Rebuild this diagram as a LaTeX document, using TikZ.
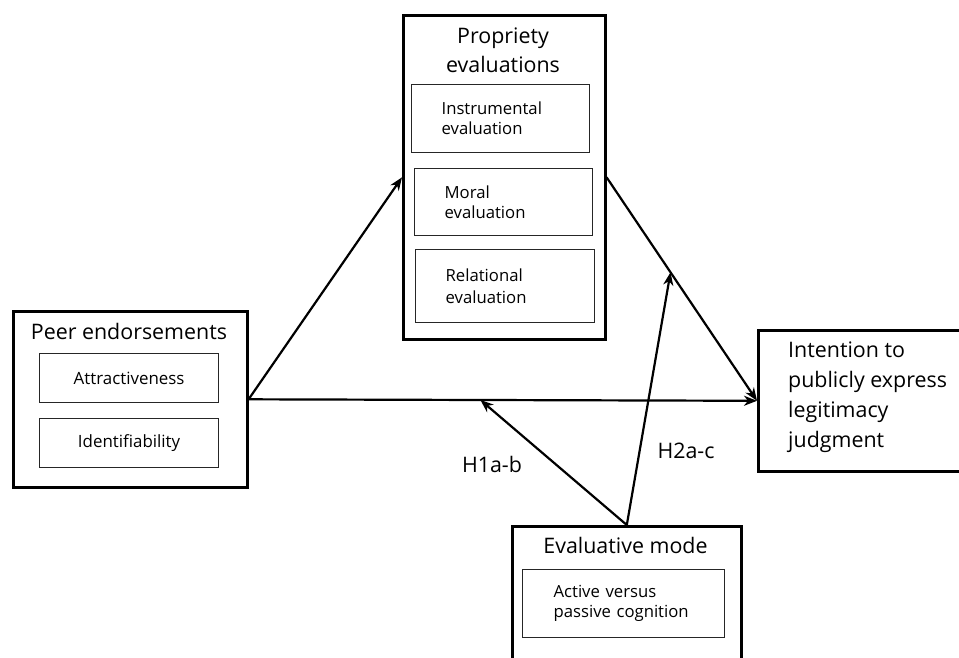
\documentclass[tikz,border=0pt]{standalone}
\usepackage{fontspec}
\setmainfont{Open Sans}
\usetikzlibrary{arrows.meta,calc}
\tikzset{
  x=1pt, y=-1pt,
  obox/.style={draw, line width=2.6pt, inner sep=0, anchor=north west},
  ibox/.style={draw=black!85, line width=1.2pt, inner ysep=0, inner xsep=30pt, align=left,
               font=\fontsize{16.7}{20}\selectfont, anchor=north west},
  cbox/.style={draw=black!85, line width=1.2pt, inner sep=0, align=center,
               font=\fontsize{16.9}{20}\selectfont, anchor=north west},
  ttl/.style={font=\fontsize{21.4}{29}\selectfont, inner sep=0},
  conn/.style={line width=2.2pt, -{Stealth[length=13pt, width=10pt, inset=4pt]}},
}
\begin{document}
\begin{tikzpicture}
\useasboundingbox (0,0) rectangle (959,657);
\clip (0,0) rectangle (959,657);
\fill[white] (0,0) rectangle (959,657);
% propriety
\node[obox, minimum width=202pt, minimum height=324pt] (prop) at (402,14) {};
\node[ttl, anchor=base, align=center] (propt) at (503,72) {Propriety\\evaluations};
\node[ibox, minimum height=68pt, text width=118pt] (instr) at (411,84) {Instrumental\\evaluation};
\node[ibox, minimum height=67pt, text width=118pt] (moral) at (414,168) {Moral\\evaluation};
\node[ibox, minimum height=73pt, text width=119pt, font=\fontsize{16.7}{22}\selectfont] (rel) at (415,249) {Relational\\evaluation};
% peer
\node[obox, minimum width=234pt, minimum height=176pt] (peer) at (12,310) {};
\node[ttl, anchor=base] (peert) at (129,339) {Peer endorsements};
\node[cbox, minimum width=179pt, minimum height=49pt] (attr) at (39,353) {Attractiveness};
\node[cbox, minimum width=179pt, minimum height=49pt] (ident) at (39,418) {Identifiability};
% intention
\node[obox, minimum width=240pt, minimum height=141pt] (int) at (757,329) {};
\node[ttl, anchor=base west, align=left, font=\fontsize{21.4}{30}\selectfont] (intt) at (788,447) {Intention to\\publicly express\\legitimacy\\judgment};
% evaluative mode
\node[obox, minimum width=229pt, minimum height=160pt] (eval) at (511,525) {};
\node[ttl, anchor=base] (evalt) at (625.5,553) {Evaluative mode};
\node[ibox, minimum height=68pt, text width=140pt, inner xsep=31pt] (act) at (522,569) {Active versus\\passive cognition};
% connectors
\draw[conn] (peer.east) -- (prop.west);
\draw[conn] (peer.east) -- (int.west);
\draw[conn] (prop.east) -- (int.west);
\coordinate (m1) at ($(peer.east)!0.456!(int.west)$);
\coordinate (m2) at ($(prop.east)!0.425!(int.west)$);
\draw[conn] (eval.north) -- (m1);
\draw[conn] (eval.north) -- (m2);
\node[ttl, anchor=base] (h1) at (492,472) {H1a-b};
\node[ttl, anchor=base] (h2) at (686,458) {H2a-c};
\end{tikzpicture}
\end{document}
